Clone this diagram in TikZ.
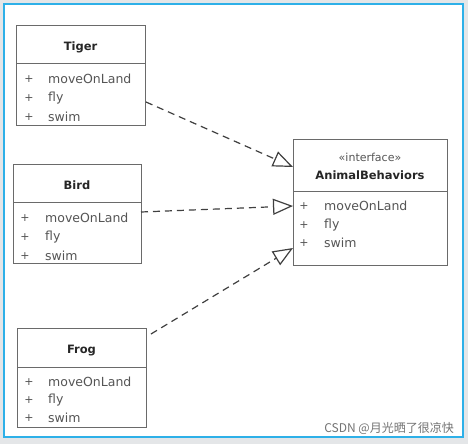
\documentclass[tikz,border=0pt]{standalone}
\usepackage{fontspec}
\setmainfont{DejaVu Sans}
\newfontfamily\cjkfont{Noto Sans CJK SC}
\usetikzlibrary{arrows.meta,positioning}
\definecolor{panelblue}{HTML}{2EB0E8}
\definecolor{boxline}{HTML}{6A6A6A}
\definecolor{itemtext}{HTML}{555555}
\definecolor{bggrey}{HTML}{E4E6E8}
\tikzset{
  boxpart/.style={draw=boxline, line width=1pt, fill=white, anchor=north west, inner sep=0pt},
  titletext/.style={font=\fontsize{11.5}{13}\selectfont\bfseries, text=black!85, inner sep=0pt},
  stereo/.style={font=\fontsize{11}{13}\selectfont, text=itemtext, inner sep=0pt},
  itemtext/.style={font=\fontsize{12.5}{14}\selectfont, text=itemtext, inner sep=0pt, anchor=west},
  plustext/.style={font=\fontsize{11}{13}\selectfont, text=itemtext, inner sep=0pt},
  realize/.style={draw=black!75, line width=1.2pt, dash pattern=on 7pt off 5pt,
    -{Triangle[open, length=20pt, width=16pt, line width=1.2pt]}}
}
\begin{document}
\begin{tikzpicture}[x=1pt,y=-1pt]
\useasboundingbox (0,0) rectangle (468,444);
\fill[bggrey] (0,0) rectangle (468,444);
\draw[panelblue, line width=2pt, fill=white] (4,4) rectangle (463,437);

% Tiger
\node[boxpart, minimum width=129pt, minimum height=38pt] (tigerH) at (16,25) {};
\node[titletext] (tigerT) at (80.5,47) {Tiger};
\node[boxpart, minimum width=129pt, minimum height=62pt] (tigerB) at (16,63) {};
\node[plustext] (tp1) at (29,79) {+};
\node[plustext] (tp2) at (29,98) {+};
\node[plustext] (tp3) at (29,117) {+};
\node[itemtext] (ti1) at (48,79) {moveOnLand};
\node[itemtext] (ti2) at (48,98) {fly};
\node[itemtext] (ti3) at (48,117) {swim};

% Bird
\node[boxpart, minimum width=128pt, minimum height=38pt] (birdH) at (13,164) {};
\node[titletext] (birdT) at (77,185) {Bird};
\node[boxpart, minimum width=128pt, minimum height=61pt] (birdB) at (13,202) {};
\node[plustext] (bp1) at (25,218) {+};
\node[plustext] (bp2) at (25,237) {+};
\node[plustext] (bp3) at (25,256) {+};
\node[itemtext] (bi1) at (45,218) {moveOnLand};
\node[itemtext] (bi2) at (45,237) {fly};
\node[itemtext] (bi3) at (45,256) {swim};

% Frog
\node[boxpart, minimum width=129pt, minimum height=39pt] (frogH) at (17,328) {};
\node[titletext] (frogT) at (81.5,351) {Frog};
\node[boxpart, minimum width=129pt, minimum height=60pt] (frogB) at (17,367) {};
\node[plustext] (fp1) at (29,382) {+};
\node[plustext] (fp2) at (29,400) {+};
\node[plustext] (fp3) at (29,418) {+};
\node[itemtext] (fi1) at (48,382) {moveOnLand};
\node[itemtext] (fi2) at (48,400) {fly};
\node[itemtext] (fi3) at (48,418) {swim};

% Interface
\node[boxpart, minimum width=154pt, minimum height=52pt] (ifH) at (293,139) {};
\node[stereo] (ifS) at (370,157) {«interface»};
\node[titletext] (ifT) at (370,175) {AnimalBehaviors};
\node[boxpart, minimum width=154pt, minimum height=74pt] (ifB) at (293,191) {};
\node[plustext] (ip1) at (304,206) {+};
\node[plustext] (ip2) at (304,225) {+};
\node[plustext] (ip3) at (304,243) {+};
\node[itemtext] (ii1) at (324,206) {moveOnLand};
\node[itemtext] (ii2) at (324,225) {fly};
\node[itemtext] (ii3) at (324,243) {swim};

% connector end points
\coordinate (tigerS) at (146,102);
\coordinate (birdS) at (141,212);
\coordinate (frogS) at (151,334);
\coordinate (ifT1) at (293,167);
\coordinate (ifT2) at (293,206);
\coordinate (ifT3) at (293,248);

\draw[realize] (tigerS) -- (ifT1);
\draw[realize] (birdS) -- (ifT2);
\draw[realize] (frogS) -- (ifT3);

% watermark
\node[font=\cjkfont\fontsize{12}{14}\selectfont, text=black!55, anchor=east, inner sep=0pt] (wm) at (454,428) {CSDN @月光晒了很凉快};
\end{tikzpicture}
\end{document}
